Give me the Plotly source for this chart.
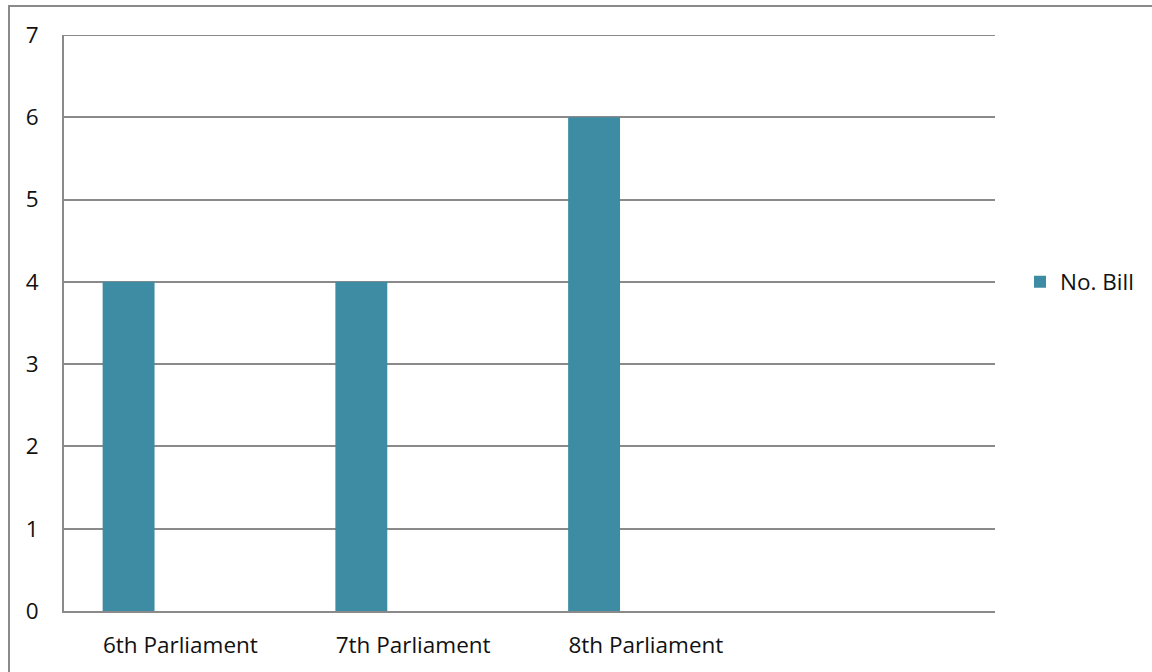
import plotly.graph_objects as go

categories = ["6th Parliament", "7th Parliament", "8th Parliament"]
values = [4, 4, 6]
series_name = "No. Bill"
y_ticks = [0, 1, 2, 3, 4, 5, 6, 7]
y_max = 7

W, H = 1152, 672
L, R, T, B = 64, 1152 - 995, 35, 672 - 611
pw, ph = W - L - R, H - T - B

FONT = "Open Sans"
FS = 22.5
GRID = "#8A8A8A"
fig = go.Figure()
fig.add_trace(go.Bar(
    x=list(range(len(categories))),
    y=values,
    name=series_name,
    width=0.223,
    offset=-0.334,
    marker=dict(color="#3D8CA4", line=dict(width=0)),
    showlegend=True,
))

fig.update_layout(
    width=W, height=H,
    margin=dict(l=L, r=R, t=T, b=B, pad=0, autoexpand=False),
    paper_bgcolor="white", plot_bgcolor="white",
    font=dict(family=FONT, size=FS, color="#111111"),
    xaxis=dict(
        range=[-0.5, 3.5], tickmode="array",
        tickvals=list(range(len(categories))), ticktext=categories,
        showgrid=False, zeroline=False, showline=True,
        linecolor=GRID, linewidth=2, ticks="",
        ticklabelstandoff=13, fixedrange=True, automargin=False,
    ),
    yaxis=dict(
        range=[0, y_max], tickmode="array", tickvals=y_ticks,
        showgrid=True, gridcolor=GRID, gridwidth=2,
        zeroline=False, showline=True, linecolor=GRID, linewidth=2,
        ticks="", ticklabelstandoff=19, fixedrange=True, automargin=False,
    ),
    legend=dict(
        x=(1020 - L) / pw, y=(611 - 282) / ph, xanchor="left", yanchor="middle",
        font=dict(family=FONT, size=FS), bgcolor="rgba(0,0,0,0)",
        itemwidth=30,
    ),
    shapes=[
        dict(
            type="rect", xref="paper", yref="paper",
            x0=(9 - L) / pw, x1=1.3, y0=-0.3, y1=(611 - 6) / ph,
            line=dict(color=GRID, width=2), fillcolor="rgba(0,0,0,0)",
            layer="below",
        ),
        dict(
            type="line", xref="paper", yref="y",
            x0=0, x1=1, y0=y_max, y1=y_max,
            line=dict(color=GRID, width=2), layer="below",
        ),
    ],
)

fig.write_html("out.html")
